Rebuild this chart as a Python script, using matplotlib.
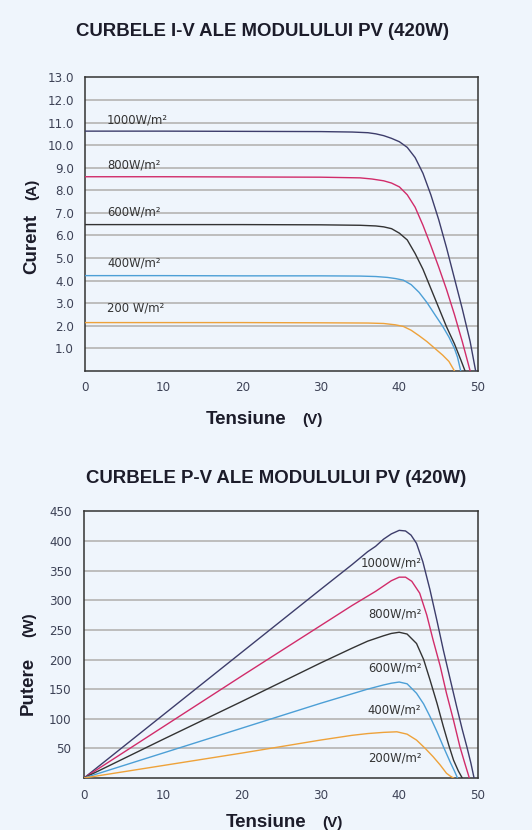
import matplotlib
matplotlib.use("Agg")
import matplotlib.pyplot as plt

# ── style ────────────────────────────────────────────────────────────────
BG = "#eff5fc"
TXT = "#1c1c2a"
TICK = "#3d4256"
GRID = "#bdbdbd"
plt.rcParams.update({
    "font.family": "DejaVu Sans",
    "axes.linewidth": 1.1,
    "axes.edgecolor": "#333333",
})

LEVELS = ["1000", "800", "600", "400", "200"]
COLORS = {"1000": "#3d3d6b", "800": "#d12c6a", "600": "#333333",
          "400": "#4c9fd6", "200": "#eea23a"}

# ── I-V curves (voltage V, current A) ────────────────────────────────────
IV_V = {
    "1000": [0, 10, 20, 30, 34, 36, 37, 38, 39, 40, 41, 42, 43, 44, 45, 46, 47, 48, 49, 49.7],
    "800":  [0, 10, 20, 30, 35, 36.5, 38, 39, 40, 41, 42, 43, 44, 45, 46, 47, 48, 49],
    "600":  [0, 10, 20, 30, 35, 37, 38, 39, 40, 41, 42, 43, 44, 45, 46, 47, 47.8, 48.35],
    "400":  [0, 10, 20, 30, 35, 37, 38.5, 39.5, 40.5, 41.5, 42.5, 43.5, 44.5, 45.5, 46.3, 47.0, 47.4, 47.8],
    "200":  [0, 10, 20, 30, 36, 38, 39.5, 40.5, 41.5, 42.5, 43.5, 44.5, 45.5, 46.3, 47.0],
}
IV_I = {
    "1000": [10.62, 10.62, 10.61, 10.60, 10.58, 10.55, 10.50, 10.42, 10.30, 10.15, 9.90, 9.45, 8.75, 7.80, 6.70, 5.45, 4.10, 2.75, 1.30, 0.0],
    "800":  [8.60, 8.60, 8.59, 8.58, 8.55, 8.50, 8.42, 8.32, 8.15, 7.80, 7.25, 6.45, 5.55, 4.60, 3.60, 2.50, 1.30, 0.0],
    "600":  [6.48, 6.48, 6.48, 6.47, 6.45, 6.42, 6.38, 6.30, 6.10, 5.80, 5.20, 4.50, 3.65, 2.80, 1.95, 1.20, 0.50, 0.0],
    "400":  [4.22, 4.22, 4.21, 4.21, 4.20, 4.18, 4.14, 4.09, 4.02, 3.82, 3.48, 3.03, 2.50, 1.98, 1.50, 1.00, 0.60, 0.0],
    "200":  [2.14, 2.14, 2.14, 2.13, 2.12, 2.10, 2.04, 1.97, 1.80, 1.56, 1.30, 1.00, 0.70, 0.42, 0.0],
}

# ── P-V curves (voltage V, power W) ──────────────────────────────────────
PV_V = {
    "1000": [0, 10, 20, 30, 34, 36, 37, 38, 39, 40, 40.8, 41.5, 42.2, 43, 43.9, 44.8, 45.6, 46.5, 47.3, 48, 48.6, 49.1, 49.5],
    "800":  [0, 10, 20, 30, 34, 36, 37, 38, 39, 40, 40.8, 41.6, 42.6, 43.5, 44.3, 45.2, 46, 46.9, 47.7, 48.3, 48.9],
    "600":  [0, 10, 20, 30, 34, 36, 38, 39, 40, 41, 42.2, 43.1, 43.9, 44.8, 45.6, 46.3, 46.9, 47.5, 48],
    "400":  [0, 10, 20, 30, 34, 36, 38, 39, 40, 41, 42.2, 43.1, 43.9, 44.8, 45.6, 46.5, 47, 47.4],
    "200":  [0, 10, 20, 30, 34, 36, 38, 39.7, 41, 42.2, 43.3, 44.3, 45.2, 46, 46.5, 46.9],
}
PV_P = {
    "1000": [0, 106, 212, 318, 360, 382, 391, 403, 412, 418, 417, 410, 396, 365, 318, 265, 216, 165, 120, 82, 52, 25, 0],
    "800":  [0, 86, 172, 257, 291, 307, 315, 324, 333, 339, 339, 332, 312, 275, 233, 189, 143, 97, 53, 26, 0],
    "600":  [0, 65, 129, 194, 219, 231, 240, 244, 246, 243, 227, 200, 166, 126, 87, 55, 30, 12, 0],
    "400":  [0, 42, 84, 126, 142, 150, 157, 160, 162, 159, 143, 125, 104, 78, 53, 26, 12, 0],
    "200":  [0, 21, 42, 64, 72, 75, 77, 78, 74, 64, 50, 36, 22, 8, 3, 0],
}

IV_LABELS = ["1000W/m²", "800W/m²", "600W/m²", "400W/m²", "200 W/m²"]
IV_LABEL_Y = [11.1, 9.1, 7.05, 4.8, 2.77]
PV_LABELS = ["1000W/m²", "800W/m²", "600W/m²", "400W/m²", "200W/m²"]
PV_LABEL_Y = [363, 277, 186, 115, 34]

IV_YTICKS = [1, 2, 3, 4, 5, 6, 7, 8, 9, 10, 11, 12, 13]
PV_YTICKS = [50, 100, 150, 200, 250, 300, 350, 400, 450]
XTICKS = [0, 10, 20, 30, 40, 50]

fig = plt.figure(figsize=(5.32, 8.30), dpi=100, facecolor=BG)
ax1 = fig.add_axes([85 / 532, 1 - 370.9 / 830, 393 / 532, 293.5 / 830])
ax2 = fig.add_axes([84 / 532, 1 - 778 / 830, 394 / 532, 266.6 / 830])


def style(ax, yticks, ymax, fmt, ypad, xpad):
    ax.set_facecolor(BG)
    ax.set_xlim(0, 50)
    ax.set_ylim(0, ymax)
    ax.set_xticks(XTICKS)
    ax.set_yticks(yticks)
    ax.set_yticklabels([fmt.format(v) for v in yticks])
    ax.tick_params(length=0, labelsize=8.6, colors=TICK)
    ax.tick_params(axis="y", pad=ypad)
    ax.tick_params(axis="x", pad=xpad)
    for v in yticks[:-1]:
        ax.axhline(v, color=GRID, lw=1.4, zorder=1)


style(ax1, IV_YTICKS, 13, "{:.1f}", 8, 7)
style(ax2, PV_YTICKS, 450, "{:d}", 9, 8)

for lvl, lab, ly in zip(LEVELS, IV_LABELS, IV_LABEL_Y):
    ax1.plot(IV_V[lvl], IV_I[lvl], color=COLORS[lvl], lw=1.0, zorder=3,
             solid_joinstyle="round")
    ax1.text(2.8, ly, lab, fontsize=8.4, color="#333333", va="center", zorder=4)

for lvl, lab, ly in zip(LEVELS, PV_LABELS, PV_LABEL_Y):
    ax2.plot(PV_V[lvl], PV_P[lvl], color=COLORS[lvl], lw=1.0, zorder=3,
             solid_joinstyle="round")
    ax2.text(42.8, ly, lab, fontsize=8.4, color="#333333", ha="right", va="center", zorder=4)

# titles and axis labels
TFONT = "Liberation Sans"
fig.text(0.4925, 0.9566, "CURBELE I-V ALE MODULULUI PV (420W)", family=TFONT,
         fontweight="bold", fontsize=13.4, color=TXT, ha="center", va="baseline")
fig.text(0.519, 0.418, "CURBELE P-V ALE MODULULUI PV (420W)", family=TFONT,
         fontweight="bold", fontsize=13.4, color=TXT, ha="center", va="baseline")

for (x, y, s, fs) in [(0.463, 0.489, "Tensiune", 13.5), (0.588, 0.489, "(V)", 11),
                      (0.501, 0.0035, "Tensiune", 13.5), (0.624, 0.0035, "(V)", 11)]:
    fig.text(x, y, s, family=TFONT, fontweight="bold", fontsize=fs, color=TXT,
             ha="center", va="baseline")

for (x, y, s, fs) in [(0.068, 0.706, "Curent", 13.5), (0.068, 0.772, "(A)", 11),
                      (0.062, 0.1735, "Putere", 13.5), (0.062, 0.247, "(W)", 11)]:
    fig.text(x, y, s, family=TFONT, fontweight="bold", fontsize=fs, color=TXT,
             ha="center", va="baseline", rotation=90, rotation_mode="anchor")

fig.savefig("out.png", dpi=100, facecolor=BG)
